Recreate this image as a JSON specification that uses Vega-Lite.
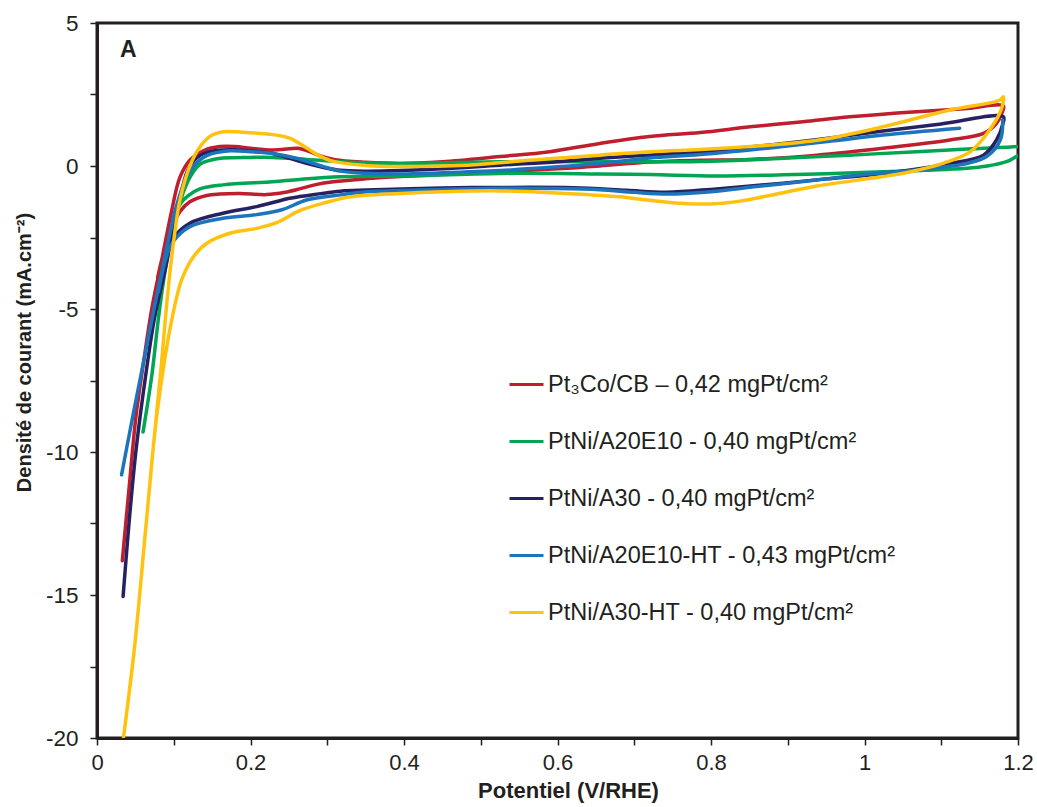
{
  "$schema": "https://vega.github.io/schema/vega-lite/v6.json",
  "width": 921,
  "height": 715,
  "autosize": {"type": "none"},
  "padding": {"left": 97, "top": 23, "right": 19, "bottom": 69},
  "background": "white",
  "config": {"view": {"stroke": "#231f20", "strokeWidth": 3}, "font": "Liberation Sans"},
  "data": {"values": [
    {"s": "Pt₃Co/CB – 0,42 mgPt/cm²", "p": 1, "x": 0.033, "y": -13.8},
    {"s": "Pt₃Co/CB – 0,42 mgPt/cm²", "p": 1, "x": 0.042, "y": -11.2},
    {"s": "Pt₃Co/CB – 0,42 mgPt/cm²", "p": 1, "x": 0.051, "y": -8.7},
    {"s": "Pt₃Co/CB – 0,42 mgPt/cm²", "p": 1, "x": 0.061, "y": -6.8},
    {"s": "Pt₃Co/CB – 0,42 mgPt/cm²", "p": 1, "x": 0.072, "y": -4.9},
    {"s": "Pt₃Co/CB – 0,42 mgPt/cm²", "p": 1, "x": 0.085, "y": -3.2},
    {"s": "Pt₃Co/CB – 0,42 mgPt/cm²", "p": 1, "x": 0.097, "y": -1.6},
    {"s": "Pt₃Co/CB – 0,42 mgPt/cm²", "p": 1, "x": 0.108, "y": -0.4},
    {"s": "Pt₃Co/CB – 0,42 mgPt/cm²", "p": 1, "x": 0.121, "y": 0.2},
    {"s": "Pt₃Co/CB – 0,42 mgPt/cm²", "p": 1, "x": 0.14, "y": 0.55},
    {"s": "Pt₃Co/CB – 0,42 mgPt/cm²", "p": 1, "x": 0.16, "y": 0.68},
    {"s": "Pt₃Co/CB – 0,42 mgPt/cm²", "p": 1, "x": 0.18, "y": 0.68},
    {"s": "Pt₃Co/CB – 0,42 mgPt/cm²", "p": 1, "x": 0.2, "y": 0.62},
    {"s": "Pt₃Co/CB – 0,42 mgPt/cm²", "p": 1, "x": 0.229, "y": 0.56},
    {"s": "Pt₃Co/CB – 0,42 mgPt/cm²", "p": 1, "x": 0.25, "y": 0.6},
    {"s": "Pt₃Co/CB – 0,42 mgPt/cm²", "p": 1, "x": 0.262, "y": 0.62},
    {"s": "Pt₃Co/CB – 0,42 mgPt/cm²", "p": 1, "x": 0.275, "y": 0.52},
    {"s": "Pt₃Co/CB – 0,42 mgPt/cm²", "p": 1, "x": 0.29, "y": 0.36},
    {"s": "Pt₃Co/CB – 0,42 mgPt/cm²", "p": 1, "x": 0.31, "y": 0.22},
    {"s": "Pt₃Co/CB – 0,42 mgPt/cm²", "p": 1, "x": 0.35, "y": 0.13},
    {"s": "Pt₃Co/CB – 0,42 mgPt/cm²", "p": 1, "x": 0.395, "y": 0.09},
    {"s": "Pt₃Co/CB – 0,42 mgPt/cm²", "p": 1, "x": 0.45, "y": 0.15},
    {"s": "Pt₃Co/CB – 0,42 mgPt/cm²", "p": 1, "x": 0.525, "y": 0.33},
    {"s": "Pt₃Co/CB – 0,42 mgPt/cm²", "p": 1, "x": 0.59, "y": 0.5},
    {"s": "Pt₃Co/CB – 0,42 mgPt/cm²", "p": 1, "x": 0.655, "y": 0.79},
    {"s": "Pt₃Co/CB – 0,42 mgPt/cm²", "p": 1, "x": 0.72, "y": 1.03},
    {"s": "Pt₃Co/CB – 0,42 mgPt/cm²", "p": 1, "x": 0.786, "y": 1.17},
    {"s": "Pt₃Co/CB – 0,42 mgPt/cm²", "p": 1, "x": 0.851, "y": 1.37},
    {"s": "Pt₃Co/CB – 0,42 mgPt/cm²", "p": 1, "x": 0.92, "y": 1.55},
    {"s": "Pt₃Co/CB – 0,42 mgPt/cm²", "p": 1, "x": 0.981, "y": 1.72},
    {"s": "Pt₃Co/CB – 0,42 mgPt/cm²", "p": 1, "x": 1.068, "y": 1.9},
    {"s": "Pt₃Co/CB – 0,42 mgPt/cm²", "p": 1, "x": 1.13, "y": 2.0},
    {"s": "Pt₃Co/CB – 0,42 mgPt/cm²", "p": 1, "x": 1.181, "y": 2.1},
    {"s": "Pt₃Co/CB – 0,42 mgPt/cm²", "p": 1, "x": 1.179, "y": 1.85},
    {"s": "Pt₃Co/CB – 0,42 mgPt/cm²", "p": 1, "x": 1.172, "y": 1.49},
    {"s": "Pt₃Co/CB – 0,42 mgPt/cm²", "p": 1, "x": 1.155, "y": 1.14},
    {"s": "Pt₃Co/CB – 0,42 mgPt/cm²", "p": 1, "x": 1.111, "y": 0.91},
    {"s": "Pt₃Co/CB – 0,42 mgPt/cm²", "p": 1, "x": 1.024, "y": 0.62},
    {"s": "Pt₃Co/CB – 0,42 mgPt/cm²", "p": 1, "x": 0.938, "y": 0.38},
    {"s": "Pt₃Co/CB – 0,42 mgPt/cm²", "p": 1, "x": 0.851, "y": 0.23},
    {"s": "Pt₃Co/CB – 0,42 mgPt/cm²", "p": 1, "x": 0.786, "y": 0.2},
    {"s": "Pt₃Co/CB – 0,42 mgPt/cm²", "p": 1, "x": 0.72, "y": 0.14},
    {"s": "Pt₃Co/CB – 0,42 mgPt/cm²", "p": 1, "x": 0.655, "y": 0.0},
    {"s": "Pt₃Co/CB – 0,42 mgPt/cm²", "p": 1, "x": 0.6, "y": -0.1},
    {"s": "Pt₃Co/CB – 0,42 mgPt/cm²", "p": 1, "x": 0.525, "y": -0.2},
    {"s": "Pt₃Co/CB – 0,42 mgPt/cm²", "p": 1, "x": 0.45, "y": -0.3},
    {"s": "Pt₃Co/CB – 0,42 mgPt/cm²", "p": 1, "x": 0.395, "y": -0.37},
    {"s": "Pt₃Co/CB – 0,42 mgPt/cm²", "p": 1, "x": 0.35, "y": -0.45},
    {"s": "Pt₃Co/CB – 0,42 mgPt/cm²", "p": 1, "x": 0.308, "y": -0.55},
    {"s": "Pt₃Co/CB – 0,42 mgPt/cm²", "p": 1, "x": 0.285, "y": -0.65},
    {"s": "Pt₃Co/CB – 0,42 mgPt/cm²", "p": 1, "x": 0.264, "y": -0.8},
    {"s": "Pt₃Co/CB – 0,42 mgPt/cm²", "p": 1, "x": 0.245, "y": -0.92},
    {"s": "Pt₃Co/CB – 0,42 mgPt/cm²", "p": 1, "x": 0.221, "y": -1.0},
    {"s": "Pt₃Co/CB – 0,42 mgPt/cm²", "p": 1, "x": 0.186, "y": -0.96},
    {"s": "Pt₃Co/CB – 0,42 mgPt/cm²", "p": 1, "x": 0.16, "y": -0.98},
    {"s": "Pt₃Co/CB – 0,42 mgPt/cm²", "p": 1, "x": 0.143, "y": -1.03},
    {"s": "Pt₃Co/CB – 0,42 mgPt/cm²", "p": 1, "x": 0.121, "y": -1.25},
    {"s": "Pt₃Co/CB – 0,42 mgPt/cm²", "p": 1, "x": 0.108, "y": -1.6},
    {"s": "Pt₃Co/CB – 0,42 mgPt/cm²", "p": 1, "x": 0.097, "y": -2.2},
    {"s": "Pt₃Co/CB – 0,42 mgPt/cm²", "p": 1, "x": 0.088, "y": -2.9},
    {"s": "Pt₃Co/CB – 0,42 mgPt/cm²", "p": 1, "x": 0.079, "y": -3.9},

    {"s": "PtNi/A20E10 - 0,40 mgPt/cm²", "p": 1, "x": 0.06, "y": -9.3},
    {"s": "PtNi/A20E10 - 0,40 mgPt/cm²", "p": 1, "x": 0.066, "y": -8.3},
    {"s": "PtNi/A20E10 - 0,40 mgPt/cm²", "p": 1, "x": 0.072, "y": -7.2},
    {"s": "PtNi/A20E10 - 0,40 mgPt/cm²", "p": 1, "x": 0.082, "y": -4.9},
    {"s": "PtNi/A20E10 - 0,40 mgPt/cm²", "p": 1, "x": 0.093, "y": -3.0},
    {"s": "PtNi/A20E10 - 0,40 mgPt/cm²", "p": 1, "x": 0.102, "y": -1.9},
    {"s": "PtNi/A20E10 - 0,40 mgPt/cm²", "p": 1, "x": 0.112, "y": -0.95},
    {"s": "PtNi/A20E10 - 0,40 mgPt/cm²", "p": 1, "x": 0.122, "y": -0.35},
    {"s": "PtNi/A20E10 - 0,40 mgPt/cm²", "p": 1, "x": 0.134, "y": 0.06},
    {"s": "PtNi/A20E10 - 0,40 mgPt/cm²", "p": 1, "x": 0.15, "y": 0.22},
    {"s": "PtNi/A20E10 - 0,40 mgPt/cm²", "p": 1, "x": 0.164, "y": 0.28},
    {"s": "PtNi/A20E10 - 0,40 mgPt/cm²", "p": 1, "x": 0.2, "y": 0.3},
    {"s": "PtNi/A20E10 - 0,40 mgPt/cm²", "p": 1, "x": 0.229, "y": 0.3},
    {"s": "PtNi/A20E10 - 0,40 mgPt/cm²", "p": 1, "x": 0.273, "y": 0.23},
    {"s": "PtNi/A20E10 - 0,40 mgPt/cm²", "p": 1, "x": 0.317, "y": 0.15},
    {"s": "PtNi/A20E10 - 0,40 mgPt/cm²", "p": 1, "x": 0.395, "y": 0.09},
    {"s": "PtNi/A20E10 - 0,40 mgPt/cm²", "p": 1, "x": 0.525, "y": 0.15},
    {"s": "PtNi/A20E10 - 0,40 mgPt/cm²", "p": 1, "x": 0.655, "y": 0.15},
    {"s": "PtNi/A20E10 - 0,40 mgPt/cm²", "p": 1, "x": 0.786, "y": 0.16},
    {"s": "PtNi/A20E10 - 0,40 mgPt/cm²", "p": 1, "x": 0.894, "y": 0.27},
    {"s": "PtNi/A20E10 - 0,40 mgPt/cm²", "p": 1, "x": 0.98, "y": 0.38},
    {"s": "PtNi/A20E10 - 0,40 mgPt/cm²", "p": 1, "x": 1.068, "y": 0.5},
    {"s": "PtNi/A20E10 - 0,40 mgPt/cm²", "p": 1, "x": 1.14, "y": 0.6},
    {"s": "PtNi/A20E10 - 0,40 mgPt/cm²", "p": 1, "x": 1.2, "y": 0.68},
    {"s": "PtNi/A20E10 - 0,40 mgPt/cm²", "p": 1, "x": 1.22, "y": 0.74},
    {"s": "PtNi/A20E10 - 0,40 mgPt/cm²", "p": 1, "x": 1.23, "y": 0.6},
    {"s": "PtNi/A20E10 - 0,40 mgPt/cm²", "p": 1, "x": 1.215, "y": 0.44},
    {"s": "PtNi/A20E10 - 0,40 mgPt/cm²", "p": 1, "x": 1.2, "y": 0.35},
    {"s": "PtNi/A20E10 - 0,40 mgPt/cm²", "p": 1, "x": 1.185, "y": 0.15},
    {"s": "PtNi/A20E10 - 0,40 mgPt/cm²", "p": 1, "x": 1.16, "y": 0.0},
    {"s": "PtNi/A20E10 - 0,40 mgPt/cm²", "p": 1, "x": 1.133, "y": -0.08},
    {"s": "PtNi/A20E10 - 0,40 mgPt/cm²", "p": 1, "x": 1.08, "y": -0.15},
    {"s": "PtNi/A20E10 - 0,40 mgPt/cm²", "p": 1, "x": 1.024, "y": -0.2},
    {"s": "PtNi/A20E10 - 0,40 mgPt/cm²", "p": 1, "x": 0.95, "y": -0.27},
    {"s": "PtNi/A20E10 - 0,40 mgPt/cm²", "p": 1, "x": 0.894, "y": -0.31},
    {"s": "PtNi/A20E10 - 0,40 mgPt/cm²", "p": 1, "x": 0.807, "y": -0.35},
    {"s": "PtNi/A20E10 - 0,40 mgPt/cm²", "p": 1, "x": 0.72, "y": -0.3},
    {"s": "PtNi/A20E10 - 0,40 mgPt/cm²", "p": 1, "x": 0.655, "y": -0.28},
    {"s": "PtNi/A20E10 - 0,40 mgPt/cm²", "p": 1, "x": 0.525, "y": -0.26},
    {"s": "PtNi/A20E10 - 0,40 mgPt/cm²", "p": 1, "x": 0.395, "y": -0.35},
    {"s": "PtNi/A20E10 - 0,40 mgPt/cm²", "p": 1, "x": 0.317, "y": -0.38},
    {"s": "PtNi/A20E10 - 0,40 mgPt/cm²", "p": 1, "x": 0.264, "y": -0.47},
    {"s": "PtNi/A20E10 - 0,40 mgPt/cm²", "p": 1, "x": 0.229, "y": -0.55},
    {"s": "PtNi/A20E10 - 0,40 mgPt/cm²", "p": 1, "x": 0.164, "y": -0.66},
    {"s": "PtNi/A20E10 - 0,40 mgPt/cm²", "p": 1, "x": 0.134, "y": -0.8},
    {"s": "PtNi/A20E10 - 0,40 mgPt/cm²", "p": 1, "x": 0.118, "y": -1.05},
    {"s": "PtNi/A20E10 - 0,40 mgPt/cm²", "p": 1, "x": 0.108, "y": -1.35},
    {"s": "PtNi/A20E10 - 0,40 mgPt/cm²", "p": 1, "x": 0.1, "y": -2.0},
    {"s": "PtNi/A20E10 - 0,40 mgPt/cm²", "p": 1, "x": 0.093, "y": -3.0},

    {"s": "PtNi/A30 - 0,40 mgPt/cm²", "p": 1, "x": 0.034, "y": -15.05},
    {"s": "PtNi/A30 - 0,40 mgPt/cm²", "p": 1, "x": 0.042, "y": -12.4},
    {"s": "PtNi/A30 - 0,40 mgPt/cm²", "p": 1, "x": 0.051, "y": -9.9},
    {"s": "PtNi/A30 - 0,40 mgPt/cm²", "p": 1, "x": 0.063, "y": -7.4},
    {"s": "PtNi/A30 - 0,40 mgPt/cm²", "p": 1, "x": 0.075, "y": -5.3},
    {"s": "PtNi/A30 - 0,40 mgPt/cm²", "p": 1, "x": 0.089, "y": -3.6},
    {"s": "PtNi/A30 - 0,40 mgPt/cm²", "p": 1, "x": 0.1, "y": -2.1},
    {"s": "PtNi/A30 - 0,40 mgPt/cm²", "p": 1, "x": 0.11, "y": -0.9},
    {"s": "PtNi/A30 - 0,40 mgPt/cm²", "p": 1, "x": 0.12, "y": -0.05},
    {"s": "PtNi/A30 - 0,40 mgPt/cm²", "p": 1, "x": 0.135, "y": 0.38},
    {"s": "PtNi/A30 - 0,40 mgPt/cm²", "p": 1, "x": 0.155, "y": 0.54},
    {"s": "PtNi/A30 - 0,40 mgPt/cm²", "p": 1, "x": 0.18, "y": 0.57},
    {"s": "PtNi/A30 - 0,40 mgPt/cm²", "p": 1, "x": 0.21, "y": 0.5},
    {"s": "PtNi/A30 - 0,40 mgPt/cm²", "p": 1, "x": 0.229, "y": 0.44},
    {"s": "PtNi/A30 - 0,40 mgPt/cm²", "p": 1, "x": 0.251, "y": 0.27},
    {"s": "PtNi/A30 - 0,40 mgPt/cm²", "p": 1, "x": 0.273, "y": 0.09},
    {"s": "PtNi/A30 - 0,40 mgPt/cm²", "p": 1, "x": 0.295, "y": -0.05},
    {"s": "PtNi/A30 - 0,40 mgPt/cm²", "p": 1, "x": 0.317, "y": -0.15},
    {"s": "PtNi/A30 - 0,40 mgPt/cm²", "p": 1, "x": 0.35, "y": -0.18},
    {"s": "PtNi/A30 - 0,40 mgPt/cm²", "p": 1, "x": 0.395, "y": -0.16},
    {"s": "PtNi/A30 - 0,40 mgPt/cm²", "p": 1, "x": 0.45, "y": -0.1},
    {"s": "PtNi/A30 - 0,40 mgPt/cm²", "p": 1, "x": 0.525, "y": 0.03},
    {"s": "PtNi/A30 - 0,40 mgPt/cm²", "p": 1, "x": 0.6, "y": 0.15},
    {"s": "PtNi/A30 - 0,40 mgPt/cm²", "p": 1, "x": 0.655, "y": 0.27},
    {"s": "PtNi/A30 - 0,40 mgPt/cm²", "p": 1, "x": 0.72, "y": 0.38},
    {"s": "PtNi/A30 - 0,40 mgPt/cm²", "p": 1, "x": 0.786, "y": 0.5},
    {"s": "PtNi/A30 - 0,40 mgPt/cm²", "p": 1, "x": 0.894, "y": 0.79},
    {"s": "PtNi/A30 - 0,40 mgPt/cm²", "p": 1, "x": 0.96, "y": 1.0},
    {"s": "PtNi/A30 - 0,40 mgPt/cm²", "p": 1, "x": 1.024, "y": 1.22},
    {"s": "PtNi/A30 - 0,40 mgPt/cm²", "p": 1, "x": 1.1, "y": 1.47},
    {"s": "PtNi/A30 - 0,40 mgPt/cm²", "p": 1, "x": 1.181, "y": 1.72},
    {"s": "PtNi/A30 - 0,40 mgPt/cm²", "p": 1, "x": 1.18, "y": 1.45},
    {"s": "PtNi/A30 - 0,40 mgPt/cm²", "p": 1, "x": 1.172, "y": 0.91},
    {"s": "PtNi/A30 - 0,40 mgPt/cm²", "p": 1, "x": 1.155, "y": 0.38},
    {"s": "PtNi/A30 - 0,40 mgPt/cm²", "p": 1, "x": 1.111, "y": 0.09},
    {"s": "PtNi/A30 - 0,40 mgPt/cm²", "p": 1, "x": 1.024, "y": -0.26},
    {"s": "PtNi/A30 - 0,40 mgPt/cm²", "p": 1, "x": 0.95, "y": -0.45},
    {"s": "PtNi/A30 - 0,40 mgPt/cm²", "p": 1, "x": 0.894, "y": -0.6},
    {"s": "PtNi/A30 - 0,40 mgPt/cm²", "p": 1, "x": 0.807, "y": -0.8},
    {"s": "PtNi/A30 - 0,40 mgPt/cm²", "p": 1, "x": 0.742, "y": -0.92},
    {"s": "PtNi/A30 - 0,40 mgPt/cm²", "p": 1, "x": 0.69, "y": -0.85},
    {"s": "PtNi/A30 - 0,40 mgPt/cm²", "p": 1, "x": 0.62, "y": -0.76},
    {"s": "PtNi/A30 - 0,40 mgPt/cm²", "p": 1, "x": 0.525, "y": -0.75},
    {"s": "PtNi/A30 - 0,40 mgPt/cm²", "p": 1, "x": 0.45, "y": -0.77},
    {"s": "PtNi/A30 - 0,40 mgPt/cm²", "p": 1, "x": 0.351, "y": -0.84},
    {"s": "PtNi/A30 - 0,40 mgPt/cm²", "p": 1, "x": 0.317, "y": -0.88},
    {"s": "PtNi/A30 - 0,40 mgPt/cm²", "p": 1, "x": 0.264, "y": -1.07},
    {"s": "PtNi/A30 - 0,40 mgPt/cm²", "p": 1, "x": 0.251, "y": -1.13},
    {"s": "PtNi/A30 - 0,40 mgPt/cm²", "p": 1, "x": 0.208, "y": -1.42},
    {"s": "PtNi/A30 - 0,40 mgPt/cm²", "p": 1, "x": 0.164, "y": -1.65},
    {"s": "PtNi/A30 - 0,40 mgPt/cm²", "p": 1, "x": 0.121, "y": -2.0},
    {"s": "PtNi/A30 - 0,40 mgPt/cm²", "p": 1, "x": 0.1, "y": -2.5},
    {"s": "PtNi/A30 - 0,40 mgPt/cm²", "p": 1, "x": 0.089, "y": -3.3},
    {"s": "PtNi/A30 - 0,40 mgPt/cm²", "p": 1, "x": 0.08, "y": -4.5},

    {"s": "PtNi/A20E10-HT - 0,43 mgPt/cm²", "p": 1, "x": 0.032, "y": -10.8},
    {"s": "PtNi/A20E10-HT - 0,43 mgPt/cm²", "p": 1, "x": 0.047, "y": -8.7},
    {"s": "PtNi/A20E10-HT - 0,43 mgPt/cm²", "p": 1, "x": 0.061, "y": -6.8},
    {"s": "PtNi/A20E10-HT - 0,43 mgPt/cm²", "p": 1, "x": 0.075, "y": -4.9},
    {"s": "PtNi/A20E10-HT - 0,43 mgPt/cm²", "p": 1, "x": 0.089, "y": -3.1},
    {"s": "PtNi/A20E10-HT - 0,43 mgPt/cm²", "p": 1, "x": 0.103, "y": -1.45},
    {"s": "PtNi/A20E10-HT - 0,43 mgPt/cm²", "p": 1, "x": 0.115, "y": -0.5},
    {"s": "PtNi/A20E10-HT - 0,43 mgPt/cm²", "p": 1, "x": 0.126, "y": 0.0},
    {"s": "PtNi/A20E10-HT - 0,43 mgPt/cm²", "p": 1, "x": 0.143, "y": 0.36},
    {"s": "PtNi/A20E10-HT - 0,43 mgPt/cm²", "p": 1, "x": 0.173, "y": 0.53},
    {"s": "PtNi/A20E10-HT - 0,43 mgPt/cm²", "p": 1, "x": 0.2, "y": 0.5},
    {"s": "PtNi/A20E10-HT - 0,43 mgPt/cm²", "p": 1, "x": 0.229, "y": 0.44},
    {"s": "PtNi/A20E10-HT - 0,43 mgPt/cm²", "p": 1, "x": 0.26, "y": 0.27},
    {"s": "PtNi/A20E10-HT - 0,43 mgPt/cm²", "p": 1, "x": 0.295, "y": -0.02},
    {"s": "PtNi/A20E10-HT - 0,43 mgPt/cm²", "p": 1, "x": 0.317, "y": -0.18},
    {"s": "PtNi/A20E10-HT - 0,43 mgPt/cm²", "p": 1, "x": 0.35, "y": -0.25},
    {"s": "PtNi/A20E10-HT - 0,43 mgPt/cm²", "p": 1, "x": 0.395, "y": -0.28},
    {"s": "PtNi/A20E10-HT - 0,43 mgPt/cm²", "p": 1, "x": 0.45, "y": -0.24},
    {"s": "PtNi/A20E10-HT - 0,43 mgPt/cm²", "p": 1, "x": 0.525, "y": -0.16},
    {"s": "PtNi/A20E10-HT - 0,43 mgPt/cm²", "p": 1, "x": 0.6, "y": -0.03},
    {"s": "PtNi/A20E10-HT - 0,43 mgPt/cm²", "p": 1, "x": 0.655, "y": 0.09},
    {"s": "PtNi/A20E10-HT - 0,43 mgPt/cm²", "p": 1, "x": 0.72, "y": 0.28},
    {"s": "PtNi/A20E10-HT - 0,43 mgPt/cm²", "p": 1, "x": 0.786, "y": 0.4},
    {"s": "PtNi/A20E10-HT - 0,43 mgPt/cm²", "p": 1, "x": 0.894, "y": 0.68},
    {"s": "PtNi/A20E10-HT - 0,43 mgPt/cm²", "p": 1, "x": 0.96, "y": 0.88},
    {"s": "PtNi/A20E10-HT - 0,43 mgPt/cm²", "p": 1, "x": 1.024, "y": 1.08},
    {"s": "PtNi/A20E10-HT - 0,43 mgPt/cm²", "p": 1, "x": 1.124, "y": 1.32},
    {"s": "PtNi/A20E10-HT - 0,43 mgPt/cm²", "p": 2, "x": 1.18, "y": 1.61},
    {"s": "PtNi/A20E10-HT - 0,43 mgPt/cm²", "p": 2, "x": 1.177, "y": 0.91},
    {"s": "PtNi/A20E10-HT - 0,43 mgPt/cm²", "p": 2, "x": 1.159, "y": 0.33},
    {"s": "PtNi/A20E10-HT - 0,43 mgPt/cm²", "p": 2, "x": 1.133, "y": 0.09},
    {"s": "PtNi/A20E10-HT - 0,43 mgPt/cm²", "p": 2, "x": 1.068, "y": -0.14},
    {"s": "PtNi/A20E10-HT - 0,43 mgPt/cm²", "p": 2, "x": 1.0, "y": -0.3},
    {"s": "PtNi/A20E10-HT - 0,43 mgPt/cm²", "p": 2, "x": 0.938, "y": -0.49},
    {"s": "PtNi/A20E10-HT - 0,43 mgPt/cm²", "p": 2, "x": 0.86, "y": -0.72},
    {"s": "PtNi/A20E10-HT - 0,43 mgPt/cm²", "p": 2, "x": 0.8, "y": -0.9},
    {"s": "PtNi/A20E10-HT - 0,43 mgPt/cm²", "p": 2, "x": 0.742, "y": -0.98},
    {"s": "PtNi/A20E10-HT - 0,43 mgPt/cm²", "p": 2, "x": 0.7, "y": -0.92},
    {"s": "PtNi/A20E10-HT - 0,43 mgPt/cm²", "p": 2, "x": 0.655, "y": -0.83},
    {"s": "PtNi/A20E10-HT - 0,43 mgPt/cm²", "p": 2, "x": 0.6, "y": -0.79},
    {"s": "PtNi/A20E10-HT - 0,43 mgPt/cm²", "p": 2, "x": 0.525, "y": -0.78},
    {"s": "PtNi/A20E10-HT - 0,43 mgPt/cm²", "p": 2, "x": 0.45, "y": -0.82},
    {"s": "PtNi/A20E10-HT - 0,43 mgPt/cm²", "p": 2, "x": 0.351, "y": -0.9},
    {"s": "PtNi/A20E10-HT - 0,43 mgPt/cm²", "p": 2, "x": 0.317, "y": -1.01},
    {"s": "PtNi/A20E10-HT - 0,43 mgPt/cm²", "p": 2, "x": 0.273, "y": -1.19},
    {"s": "PtNi/A20E10-HT - 0,43 mgPt/cm²", "p": 2, "x": 0.242, "y": -1.52},
    {"s": "PtNi/A20E10-HT - 0,43 mgPt/cm²", "p": 2, "x": 0.208, "y": -1.7},
    {"s": "PtNi/A20E10-HT - 0,43 mgPt/cm²", "p": 2, "x": 0.164, "y": -1.83},
    {"s": "PtNi/A20E10-HT - 0,43 mgPt/cm²", "p": 2, "x": 0.121, "y": -2.12},
    {"s": "PtNi/A20E10-HT - 0,43 mgPt/cm²", "p": 2, "x": 0.099, "y": -2.65},
    {"s": "PtNi/A20E10-HT - 0,43 mgPt/cm²", "p": 2, "x": 0.089, "y": -3.3},
    {"s": "PtNi/A20E10-HT - 0,43 mgPt/cm²", "p": 2, "x": 0.08, "y": -4.4},

    {"s": "PtNi/A30-HT - 0,40 mgPt/cm²", "p": 1, "x": 0.033, "y": -20.3},
    {"s": "PtNi/A30-HT - 0,40 mgPt/cm²", "p": 1, "x": 0.049, "y": -16.8},
    {"s": "PtNi/A30-HT - 0,40 mgPt/cm²", "p": 1, "x": 0.061, "y": -13.4},
    {"s": "PtNi/A30-HT - 0,40 mgPt/cm²", "p": 1, "x": 0.072, "y": -10.2},
    {"s": "PtNi/A30-HT - 0,40 mgPt/cm²", "p": 1, "x": 0.083, "y": -7.2},
    {"s": "PtNi/A30-HT - 0,40 mgPt/cm²", "p": 1, "x": 0.092, "y": -4.5},
    {"s": "PtNi/A30-HT - 0,40 mgPt/cm²", "p": 1, "x": 0.1, "y": -2.6},
    {"s": "PtNi/A30-HT - 0,40 mgPt/cm²", "p": 1, "x": 0.108, "y": -1.2},
    {"s": "PtNi/A30-HT - 0,40 mgPt/cm²", "p": 1, "x": 0.121, "y": 0.0},
    {"s": "PtNi/A30-HT - 0,40 mgPt/cm²", "p": 1, "x": 0.135, "y": 0.7},
    {"s": "PtNi/A30-HT - 0,40 mgPt/cm²", "p": 1, "x": 0.15, "y": 1.08},
    {"s": "PtNi/A30-HT - 0,40 mgPt/cm²", "p": 1, "x": 0.164, "y": 1.2},
    {"s": "PtNi/A30-HT - 0,40 mgPt/cm²", "p": 1, "x": 0.19, "y": 1.18},
    {"s": "PtNi/A30-HT - 0,40 mgPt/cm²", "p": 1, "x": 0.234, "y": 1.08},
    {"s": "PtNi/A30-HT - 0,40 mgPt/cm²", "p": 1, "x": 0.25, "y": 0.98},
    {"s": "PtNi/A30-HT - 0,40 mgPt/cm²", "p": 1, "x": 0.262, "y": 0.82},
    {"s": "PtNi/A30-HT - 0,40 mgPt/cm²", "p": 1, "x": 0.275, "y": 0.6},
    {"s": "PtNi/A30-HT - 0,40 mgPt/cm²", "p": 1, "x": 0.288, "y": 0.38},
    {"s": "PtNi/A30-HT - 0,40 mgPt/cm²", "p": 1, "x": 0.308, "y": 0.16},
    {"s": "PtNi/A30-HT - 0,40 mgPt/cm²", "p": 1, "x": 0.35, "y": 0.02},
    {"s": "PtNi/A30-HT - 0,40 mgPt/cm²", "p": 1, "x": 0.395, "y": -0.02},
    {"s": "PtNi/A30-HT - 0,40 mgPt/cm²", "p": 1, "x": 0.482, "y": 0.03},
    {"s": "PtNi/A30-HT - 0,40 mgPt/cm²", "p": 1, "x": 0.568, "y": 0.21},
    {"s": "PtNi/A30-HT - 0,40 mgPt/cm²", "p": 1, "x": 0.655, "y": 0.38},
    {"s": "PtNi/A30-HT - 0,40 mgPt/cm²", "p": 1, "x": 0.72, "y": 0.5},
    {"s": "PtNi/A30-HT - 0,40 mgPt/cm²", "p": 1, "x": 0.786, "y": 0.58},
    {"s": "PtNi/A30-HT - 0,40 mgPt/cm²", "p": 1, "x": 0.851, "y": 0.68},
    {"s": "PtNi/A30-HT - 0,40 mgPt/cm²", "p": 1, "x": 0.938, "y": 0.9},
    {"s": "PtNi/A30-HT - 0,40 mgPt/cm²", "p": 1, "x": 1.024, "y": 1.37},
    {"s": "PtNi/A30-HT - 0,40 mgPt/cm²", "p": 1, "x": 1.111, "y": 1.96},
    {"s": "PtNi/A30-HT - 0,40 mgPt/cm²", "p": 1, "x": 1.176, "y": 2.3},
    {"s": "PtNi/A30-HT - 0,40 mgPt/cm²", "p": 1, "x": 1.181, "y": 2.42},
    {"s": "PtNi/A30-HT - 0,40 mgPt/cm²", "p": 1, "x": 1.178, "y": 1.96},
    {"s": "PtNi/A30-HT - 0,40 mgPt/cm²", "p": 1, "x": 1.163, "y": 1.26},
    {"s": "PtNi/A30-HT - 0,40 mgPt/cm²", "p": 1, "x": 1.138, "y": 0.5},
    {"s": "PtNi/A30-HT - 0,40 mgPt/cm²", "p": 1, "x": 1.103, "y": 0.1},
    {"s": "PtNi/A30-HT - 0,40 mgPt/cm²", "p": 1, "x": 1.06, "y": -0.2},
    {"s": "PtNi/A30-HT - 0,40 mgPt/cm²", "p": 1, "x": 1.024, "y": -0.37},
    {"s": "PtNi/A30-HT - 0,40 mgPt/cm²", "p": 1, "x": 0.938, "y": -0.7},
    {"s": "PtNi/A30-HT - 0,40 mgPt/cm²", "p": 1, "x": 0.873, "y": -1.05},
    {"s": "PtNi/A30-HT - 0,40 mgPt/cm²", "p": 1, "x": 0.84, "y": -1.22},
    {"s": "PtNi/A30-HT - 0,40 mgPt/cm²", "p": 1, "x": 0.799, "y": -1.33},
    {"s": "PtNi/A30-HT - 0,40 mgPt/cm²", "p": 1, "x": 0.76, "y": -1.3},
    {"s": "PtNi/A30-HT - 0,40 mgPt/cm²", "p": 1, "x": 0.72, "y": -1.2},
    {"s": "PtNi/A30-HT - 0,40 mgPt/cm²", "p": 1, "x": 0.677, "y": -1.07},
    {"s": "PtNi/A30-HT - 0,40 mgPt/cm²", "p": 1, "x": 0.612, "y": -0.96},
    {"s": "PtNi/A30-HT - 0,40 mgPt/cm²", "p": 1, "x": 0.525, "y": -0.87},
    {"s": "PtNi/A30-HT - 0,40 mgPt/cm²", "p": 1, "x": 0.45, "y": -0.9},
    {"s": "PtNi/A30-HT - 0,40 mgPt/cm²", "p": 1, "x": 0.395, "y": -0.96},
    {"s": "PtNi/A30-HT - 0,40 mgPt/cm²", "p": 1, "x": 0.33, "y": -1.08},
    {"s": "PtNi/A30-HT - 0,40 mgPt/cm²", "p": 1, "x": 0.295, "y": -1.3},
    {"s": "PtNi/A30-HT - 0,40 mgPt/cm²", "p": 1, "x": 0.264, "y": -1.56},
    {"s": "PtNi/A30-HT - 0,40 mgPt/cm²", "p": 1, "x": 0.234, "y": -1.98},
    {"s": "PtNi/A30-HT - 0,40 mgPt/cm²", "p": 1, "x": 0.208, "y": -2.18},
    {"s": "PtNi/A30-HT - 0,40 mgPt/cm²", "p": 1, "x": 0.173, "y": -2.35},
    {"s": "PtNi/A30-HT - 0,40 mgPt/cm²", "p": 1, "x": 0.143, "y": -2.7},
    {"s": "PtNi/A30-HT - 0,40 mgPt/cm²", "p": 1, "x": 0.125, "y": -3.2},
    {"s": "PtNi/A30-HT - 0,40 mgPt/cm²", "p": 1, "x": 0.11, "y": -4.0},
    {"s": "PtNi/A30-HT - 0,40 mgPt/cm²", "p": 1, "x": 0.098, "y": -5.3},
    {"s": "PtNi/A30-HT - 0,40 mgPt/cm²", "p": 1, "x": 0.088, "y": -6.8},
    {"s": "PtNi/A30-HT - 0,40 mgPt/cm²", "p": 1, "x": 0.078, "y": -8.7},
    {"s": "PtNi/A30-HT - 0,40 mgPt/cm²", "p": 1, "x": 0.072, "y": -10.2}
  ]},
  "layer": [
    {
      "mark": {"type": "line", "strokeWidth": 3.5, "interpolate": "catmull-rom", "clip": true, "strokeCap": "round", "strokeJoin": "round"},
      "encoding": {
        "x": {"field": "x", "type": "quantitative",
          "scale": {"domain": [0, 1.2], "nice": false, "zero": false},
          "axis": {"title": "Potentiel (V/RHE)", "values": [0, 0.1, 0.2, 0.3, 0.4, 0.5, 0.6, 0.7, 0.8, 0.9, 1, 1.1, 1.2],
            "labelExpr": "round(datum.value*10) % 2 == 0 ? '' + round(datum.value*10)/10 : ''",
            "grid": false, "domainColor": "#231f20", "domainWidth": 3, "tickColor": "#231f20", "tickWidth": 1.5, "tickSize": 7,
            "labelFontSize": 22, "labelColor": "#231f20", "labelFont": "Liberation Sans", "labelPadding": 7, "labelFlush": false, "labelOverlap": false,
            "titleFontSize": 22, "titleFontWeight": "bold", "titleColor": "#231f20", "titleFont": "Liberation Sans", "titlePadding": 7, "titleX": 471}},
        "y": {"field": "y", "type": "quantitative",
          "scale": {"domain": [-20, 5], "nice": false, "zero": false},
          "axis": {"title": "Densité de courant (mA.cm⁻²)", "values": [-20, -17.5, -15, -12.5, -10, -7.5, -5, -2.5, 0, 2.5, 5],
            "labelExpr": "datum.value % 5 == 0 ? '' + datum.value : ''",
            "grid": false, "domainColor": "#231f20", "domainWidth": 3, "tickColor": "#231f20", "tickWidth": 1.5, "tickSize": 7,
            "labelFontSize": 22.5, "labelColor": "#231f20", "labelFont": "Liberation Sans", "labelPadding": 12, "labelFlush": false, "labelOverlap": false,
            "titleFontSize": 20, "titleFontWeight": "bold", "titleColor": "#231f20", "titleFont": "Liberation Sans", "titlePadding": 11, "titleY": 329}},
        "color": {"field": "s", "type": "nominal",
          "scale": {"domain": ["Pt₃Co/CB – 0,42 mgPt/cm²", "PtNi/A20E10 - 0,40 mgPt/cm²", "PtNi/A30 - 0,40 mgPt/cm²", "PtNi/A20E10-HT - 0,43 mgPt/cm²", "PtNi/A30-HT - 0,40 mgPt/cm²"],
            "range": ["#be1e2d", "#00a651", "#262261", "#1c75bc", "#ffc20e"]},
          "legend": {"title": null, "orient": "none", "legendX": 411, "legendY": 343, "padding": 0, "symbolType": "stroke", "symbolSize": 1156, "symbolStrokeWidth": 3,
            "labelFontSize": 23.5, "labelFont": "Liberation Sans", "labelColor": "#231f20", "labelOffset": 3, "rowPadding": 27, "labelLimit": 500}},
        "detail": {"field": "p"},
        "order": {"value": null}
      }
    },
    {
      "data": {"values": [{"label": "A"}]},
      "mark": {"type": "text", "align": "left", "baseline": "alphabetic", "fontSize": 23, "fontWeight": "bold", "font": "Liberation Sans", "color": "#231f20"},
      "encoding": {
        "text": {"field": "label"},
        "x": {"datum": 0.03, "type": "quantitative"},
        "y": {"datum": 3.8, "type": "quantitative"}
      }
    }
  ]
}
